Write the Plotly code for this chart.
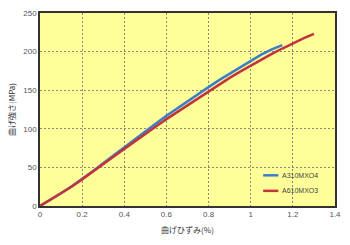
import plotly.graph_objects as go

strain_a310 = [0, 0.05, 0.1, 0.15, 0.2, 0.25, 0.3, 0.35, 0.4, 0.45, 0.5, 0.55, 0.6,
               0.65, 0.7, 0.75, 0.8, 0.85, 0.9, 0.95, 1.0, 1.05, 1.1, 1.15]
stress_a310 = [0, 8, 16.5, 25.5, 35, 45, 55.5, 66, 76.5, 87, 97, 107, 117,
               126.5, 136, 145, 154, 163, 171.5, 180, 188, 196, 203, 208.5]
strain_a610 = [0, 0.05, 0.1, 0.15, 0.2, 0.25, 0.3, 0.35, 0.4, 0.45, 0.5, 0.55, 0.6,
               0.65, 0.7, 0.75, 0.8, 0.85, 0.9, 0.95, 1.0, 1.05, 1.1, 1.15, 1.2, 1.25, 1.3]
stress_a610 = [0, 8, 16, 25, 34.5, 44, 54, 64, 74, 84, 93.5, 103, 112.5,
               121.5, 131, 140, 149, 157.5, 166, 174, 182, 189.5, 197, 204, 211, 217, 223]
names = ["A310MXO4", "A610MXO3"]
colors = ["#3b7dc9", "#c2343c"]
x_ticks = [0, 0.2, 0.4, 0.6, 0.8, 1, 1.2, 1.4]
x_tick_labels = ["0", "0.2", "0.4", "0.6", "0.8", "1", "1.2", "1.4"]
y_ticks = [0, 50, 100, 150, 200, 250]

fig = go.Figure()
fig.add_trace(go.Scatter(x=strain_a310, y=stress_a310, mode="lines", name=names[0],
                         line=dict(color=colors[0], width=2.5)))
fig.add_trace(go.Scatter(x=strain_a610, y=stress_a610, mode="lines", name=names[1],
                         line=dict(color=colors[1], width=2.5)))

tick_font = dict(family="Liberation Sans, Arial, sans-serif", size=8, color="#555555")
title_font = dict(family="Noto Sans CJK JP, sans-serif", size=8, color="#333333")

# custom legend (short sample lines, as in the reference)
legend_y = [0.159, 0.0785]
for name, col, ly in zip(names, colors, legend_y):
    fig.add_shape(type="line", xref="paper", yref="paper", x0=0.7565, x1=0.808, y0=ly, y1=ly,
                  line=dict(color=col, width=2.5))
    fig.add_annotation(xref="paper", yref="paper", x=0.812, y=ly, text=name, showarrow=False,
                       xanchor="left", yanchor="middle",
                       font=dict(family="Liberation Sans, Arial, sans-serif", size=7, color="#444444"))

grid = dict(showgrid=True, gridcolor="#8a8a78", griddash="2px,2px", gridwidth=1)
fig.update_layout(
    width=350, height=245,
    margin=dict(l=40, r=9, t=11, b=39),
    paper_bgcolor="white",
    plot_bgcolor="#ffff99",
    showlegend=False,
    xaxis=dict(range=[0, 1.4], tickvals=x_ticks, ticktext=x_tick_labels, tickfont=tick_font,
               showline=True, linecolor="#333333", linewidth=1.5, mirror=True,
               zeroline=False, ticks="", title=dict(text="曲げひずみ(%)", font=title_font, standoff=9),
               **grid),
    yaxis=dict(range=[0, 250], tickvals=y_ticks, tickfont=tick_font,
               showline=True, linecolor="#333333", linewidth=1.5, mirror=True,
               zeroline=False, ticks="", title=dict(text="曲げ強さ(MPa)", font=title_font, standoff=6),
               **grid),
)

fig.write_html("out.html")
